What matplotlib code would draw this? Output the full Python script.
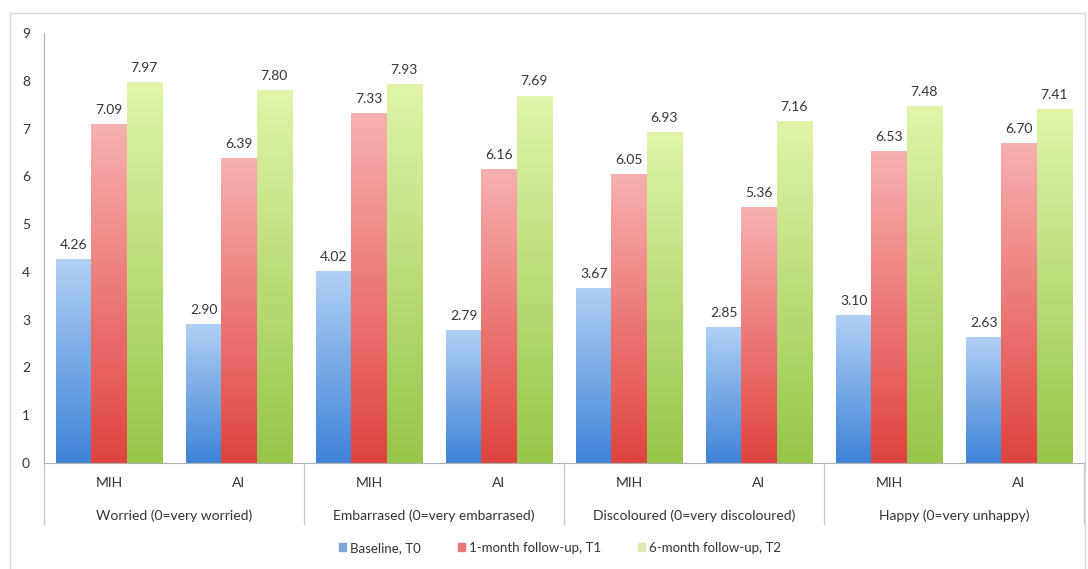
import numpy as np
import matplotlib.pyplot as plt
from matplotlib.patches import Rectangle
from matplotlib.colors import LinearSegmentedColormap

plt.rcParams['font.family'] = ['Lato', 'DejaVu Sans']

# ---- data ----
categories = ["Worried (0=very worried)", "Embarrased (0=very embarrased)",
              "Discoloured (0=very discoloured)", "Happy (0=very unhappy)"]
groups = ["MIH", "AI"]
series = ["Baseline, T0", "1-month follow-up, T1", "6-month follow-up, T2"]
baseline = [4.26, 2.90, 4.02, 2.79, 3.67, 2.85, 3.10, 2.63]
month1 = [7.09, 6.39, 7.33, 6.16, 6.05, 5.36, 6.53, 6.70]
month6 = [7.97, 7.80, 7.93, 7.69, 6.93, 7.16, 7.48, 7.41]

# (top colour, bottom colour) for the gradient fill of each series
grad = [("#b0d0f4", "#3e84d8"), ("#f7b0b0", "#e0443f"), ("#dff4a8", "#97c64a")]
legend_cols = ["#7fa6d6", "#e87878", "#d8ecb0"]
text_col = "#333333"
axis_col = "#b0b0b0"
fs = 10

fig = plt.figure(figsize=(10.88, 5.69), dpi=100)
W, H = 1088, 569
ax = fig.add_axes([44 / W, 1 - 463 / H, 1040 / W, 430 / H])

# outer chart frame
fig.patches.append(Rectangle((10 / W, -0.01), 1075 / W, 1 - 13 / H + 0.01,
                             transform=fig.transFigure, fill=False,
                             edgecolor="#d8d8d8", lw=1))

x = np.arange(len(groups) * len(categories))
bw = 0.27
for i, (vals, (ctop, cbot)) in enumerate(zip([baseline, month1, month6], grad)):
    bars = ax.bar(x + (i - 1) * bw, vals, bw, color="none", edgecolor="none",
                  label=series[i])
    cmap = LinearSegmentedColormap.from_list(f"g{i}", [cbot, ctop])
    for b, v in zip(bars, vals):
        x0, w = b.get_x(), b.get_width()
        im = ax.imshow(np.linspace(0, 1, 100).reshape(-1, 1), cmap=cmap,
                       origin="lower", aspect="auto",
                       extent=(x0, x0 + w, 0, v), zorder=2)
        im.set_clip_path(b)
        ax.text(x0 + w / 2, v + 0.17, f"{v:.2f}", ha="center", va="bottom",
                fontsize=fs, color=text_col)

ax.set_xlim(-0.5, len(x) - 0.5)
ax.set_ylim(0, 9)
ax.set_yticks(range(10))
ax.tick_params(axis="y", length=0, labelsize=fs, labelcolor=text_col, pad=10)
ax.set_xticks(x)
ax.set_xticklabels(groups * len(categories), fontsize=fs, color=text_col)
ax.tick_params(axis="x", length=0, pad=10)

for s in ["top", "right"]:
    ax.spines[s].set_visible(False)
for s in ["left", "bottom"]:
    ax.spines[s].set_color(axis_col)

# second-level category labels and separators
for k, cat in enumerate(categories):
    ax.text(2 * k + 0.5, -0.122, cat, transform=ax.get_xaxis_transform(),
            ha="center", va="center", fontsize=fs, color=text_col)
for k in range(len(categories) + 1):
    ax.plot([2 * k - 0.5] * 2, [0, -0.143], transform=ax.get_xaxis_transform(),
            color="#c8c8c8", lw=0.9, clip_on=False)

handles = [Rectangle((0, 0), 1, 1, color=c) for c in legend_cols]
fig.legend(handles, series, loc="center", bbox_to_anchor=(560 / W, 1 - 548 / H),
           ncol=3, frameon=False, fontsize=9.5, handlelength=0.55,
           handleheight=0.55, handletextpad=0.3, columnspacing=2.8,
           labelcolor=text_col)

fig.savefig("out.png", dpi=100)
